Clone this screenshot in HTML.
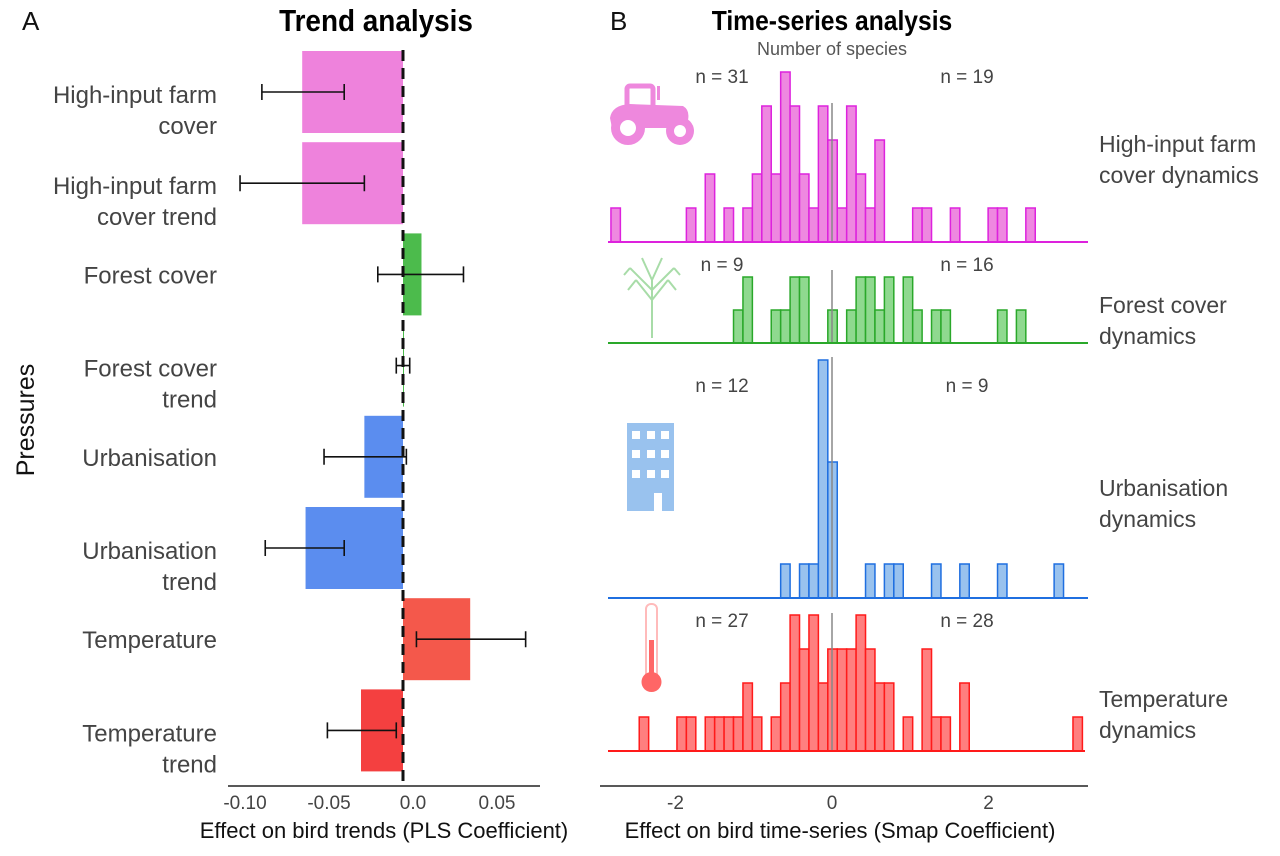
<!DOCTYPE html>
<html><head><meta charset="utf-8">
<style>
body{margin:0;background:#fff;width:1280px;height:851px;overflow:hidden;font-family:"Liberation Sans",sans-serif;}
svg text{font-family:"Liberation Sans",sans-serif;}
</style></head>
<body>
<svg id="chart" width="1280" height="851" viewBox="0 0 1280 851" xmlns="http://www.w3.org/2000/svg">
<text x="22" y="30" font-size="26" fill="#111">A</text>
<text x="376" y="31" font-size="31" font-weight="bold" text-anchor="middle" fill="#000" transform="translate(376 0) scale(0.9 1) translate(-376 0)">Trend analysis</text>
<text x="610" y="30" font-size="26" fill="#111">B</text>
<text x="832" y="30" font-size="28" font-weight="bold" text-anchor="middle" fill="#000" transform="translate(832 0) scale(0.88 1) translate(-832 0)">Time-series analysis</text>
<text x="832" y="55" font-size="18" text-anchor="middle" fill="#555">Number of species</text>
<text x="34" y="420" font-size="25" text-anchor="middle" fill="#111" transform="rotate(-90 34 420)">Pressures</text>
<text x="384" y="838" font-size="22" text-anchor="middle" fill="#111">Effect on bird trends (PLS Coefficient)</text>
<text x="840" y="838" font-size="22" text-anchor="middle" fill="#111">Effect on bird time-series (Smap Coefficient)</text>
<g id="pa"></g><g id="pb"></g>
<g fill="#ee88dd">
<rect x="627" y="86" width="26" height="22" rx="3" fill="none" stroke="#ee88dd" stroke-width="5"/>
<rect x="657" y="86" width="3" height="14"/>
<path d="M610 118 Q612 105 630 104 L683 106 Q690 110 688 120 L690 128 L612 128 Z"/>
<circle cx="628" cy="128" r="17"/><circle cx="628" cy="128" r="8" fill="#fff"/>
<circle cx="680" cy="131" r="14"/><circle cx="680" cy="131" r="6" fill="#fff"/>
</g>
<g stroke="#a8dca8" stroke-width="2" fill="none">
<path d="M652 338 L652 280 M652 300 L636 280 M652 300 L668 280 M652 290 L630 268 M652 290 L674 268 M652 280 L642 258 M652 280 L662 258 M636 280 L628 290 M668 280 L676 290 M630 268 L624 275 M674 268 L680 275"/>
</g>
<g>
<rect x="627" y="423" width="47" height="88" fill="#99c2ee"/>
<g fill="#fff">
<rect x="632" y="431" width="8" height="8"/><rect x="647" y="431" width="8" height="8"/><rect x="661" y="431" width="8" height="8"/>
<rect x="632" y="450" width="8" height="8"/><rect x="647" y="450" width="8" height="8"/><rect x="661" y="450" width="8" height="8"/>
<rect x="632" y="470" width="8" height="8"/><rect x="647" y="470" width="8" height="8"/><rect x="661" y="470" width="8" height="8"/>
<rect x="654" y="493" width="8" height="18"/>
</g></g>
<g>
<rect x="646" y="604" width="11" height="76" rx="5" fill="#fff" stroke="#fbb" stroke-width="2"/>
<rect x="649" y="640" width="5" height="40" fill="#f66"/>
<circle cx="651.5" cy="682" r="10" fill="#f66"/>
</g>
</svg>
<script>
// Panel A data
const pressures = ["High-input farm|cover","High-input farm|cover trend","Forest cover","Forest cover|trend","Urbanisation","Urbanisation|trend","Temperature","Temperature|trend"];
const coef = [-0.06,-0.06,0.011,0.0,-0.023,-0.058,0.04,-0.025];
const errLow = [-0.084,-0.097,-0.015,-0.004,-0.047,-0.082,0.008,-0.045];
const errHigh = [-0.035,-0.023,0.036,0.004,0.002,-0.035,0.073,-0.004];
const barColors = ["#ee82dc","#ee82dc","#4cbb4c","#4cbb4c","#5b8def","#5b8def","#f4584b","#f44040"];
const ticksA = [-0.10,-0.05,0.0,0.05];
const tickLabelsA = ["-0.10","-0.05","0.0","0.05"];
// Panel B data: histogram counts per bin
const binStart = -2.825, binWidth = 0.1205;
const farmCounts = [1,0,0,0,0,0,0,0,1,0,2,0,1,0,1,2,4,2,5,4,2,1,4,3,1,4,2,1,3,0,0,0,1,1,0,0,1,0,0,0,1,1,0,0,1];
const forestCounts = [0,0,0,0,0,0,0,0,0,0,0,0,0,1,2,0,0,1,1,2,2,0,0,1,0,1,2,2,1,2,0,2,1,0,1,1,0,0,0,0,0,1,0,1];
const urbanCounts = [0,0,0,0,0,0,0,0,0,0,0,0,0,0,0,0,0,0,1,0,1,1,7,4,0,0,0,1,0,1,1,0,0,0,1,0,0,1,0,0,0,1,0,0,0,0,0,1];
const tempCounts = [0,0,0,1,0,0,0,1,1,0,1,1,1,1,2,1,0,1,2,4,3,4,2,3,3,3,4,3,2,2,0,1,0,3,1,1,0,2,0,0,0,0,0,0,0,0,0,0,0,1];
const nLeft = ["n = 31","n = 9","n = 12","n = 27"];
const nRight = ["n = 19","n = 16","n = 9","n = 28"];
const ticksB = [-2,0,2];
const tickLabelsB = ["-2","0","2"];

const NS="http://www.w3.org/2000/svg";
function mk(tag,attrs,parent){const e=document.createElementNS(NS,tag);for(const k in attrs)e.setAttribute(k,attrs[k]);parent.appendChild(e);return e;}
const xA = v => 403 + v*1680;
const yA = i => 92 + i*91.2;
const pa = document.getElementById('pa');
pressures.forEach((p,i)=>{
  const cy=yA(i);
  const r=mk('rect',{x:Math.min(xA(0),xA(coef[i])),y:cy-41,width:Math.max(1,Math.abs(xA(coef[i])-xA(0))),height:82,fill:barColors[i]},pa);
  
  
  const eb=mk('path',{d:`M${xA(errLow[i])} ${cy} H${xA(errHigh[i])} M${xA(errLow[i])} ${cy-8} V${cy+8} M${xA(errHigh[i])} ${cy-8} V${cy+8}`,stroke:'#111','stroke-width':1.6,fill:'none'},pa);
  
  
  const lines=p.split('|');
  const t=mk('text',{x:217,'text-anchor':'end','font-size':24,fill:'#444'},pa);
  
  
  lines.forEach((l,j)=>{const s=mk('tspan',{x:217,y:lines.length==1?cy+9:cy+11+j*31},t);s.textContent=l;});
});
const zl=mk('line',{x1:xA(0),x2:xA(0),y1:50,y2:786,stroke:'#111','stroke-width':3,'stroke-dasharray':'11 7'},pa);


const axA=mk('line',{x1:228,x2:540,y1:786,y2:786,stroke:'#222','stroke-width':1.5},pa);


ticksA.forEach((v,i)=>{const t=mk('text',{x:xA(v)+10,y:809,'text-anchor':'middle','font-size':19,fill:'#444'},pa);t.textContent=tickLabelsA[i];
  
  });

const xB = v => 832 + v*78.25;
const pb=document.getElementById('pb');
const panels=[
 {c:farmCounts,base:242,unit:34,fill:'#ee88e0',stroke:'#dd22dd',ny:83,top:103,label:['High-input farm','cover dynamics'],ly:152,name:'farm'},
 {c:forestCounts,base:343,unit:33,fill:'#8fd98f',stroke:'#2aa82a',ny:271,top:270,label:['Forest cover','dynamics'],ly:313,name:'forest'},
 {c:urbanCounts,base:598,unit:34,fill:'#99c2ee',stroke:'#1f6fe0',ny:392,top:357,label:['Urbanisation','dynamics'],ly:496,name:'urban'},
 {c:tempCounts,base:751,unit:34,fill:'#ff7f7f',stroke:'#ff1a1a',ny:627,top:613,label:['Temperature','dynamics'],ly:707,name:'temperature'}];
const lineEnd=[1088,1088,1088,1085];
panels.forEach((P,k)=>{
  const g=mk('g',{},pb);
  
  
  P.c.forEach((n,i)=>{ if(!n) return;
    const x0=xB(binStart+i*binWidth), x1=xB(binStart+(i+1)*binWidth);
    const r=mk('rect',{x:x0,y:P.base-n*P.unit,width:x1-x0,height:n*P.unit,fill:P.fill,stroke:P.stroke,'stroke-width':1.5},g);
    
    
  });
  const zl=mk('line',{x1:xB(0),x2:xB(0),y1:P.top,y2:P.base,stroke:'#888','stroke-width':1.5},g);
  
  
  const bl=mk('line',{x1:608,x2:lineEnd[k],y1:P.base,y2:P.base,stroke:P.stroke,'stroke-width':2},g);
  
  
  const t1=mk('text',{x:722,y:P.ny,'font-size':19,'text-anchor':'middle',fill:'#444'},g);t1.textContent=nLeft[k];
  
  
  const t2=mk('text',{x:967,y:P.ny,'font-size':19,'text-anchor':'middle',fill:'#444'},g);t2.textContent=nRight[k];
  
  
  const lt=mk('text',{x:1099,'font-size':23,fill:'#444'},g);
  
  
  P.label.forEach((l,j)=>{const s=mk('tspan',{x:1099,y:P.ly+j*31},lt);s.textContent=l;});
});
const axB=mk('line',{x1:600,x2:1088,y1:786,y2:786,stroke:'#222','stroke-width':1.5},pb);


ticksB.forEach((v,i)=>{const t=mk('text',{x:xB(v),y:809,'text-anchor':'middle','font-size':19,fill:'#444'},pb);t.textContent=tickLabelsB[i];
  
  });
</script>
</body></html>
